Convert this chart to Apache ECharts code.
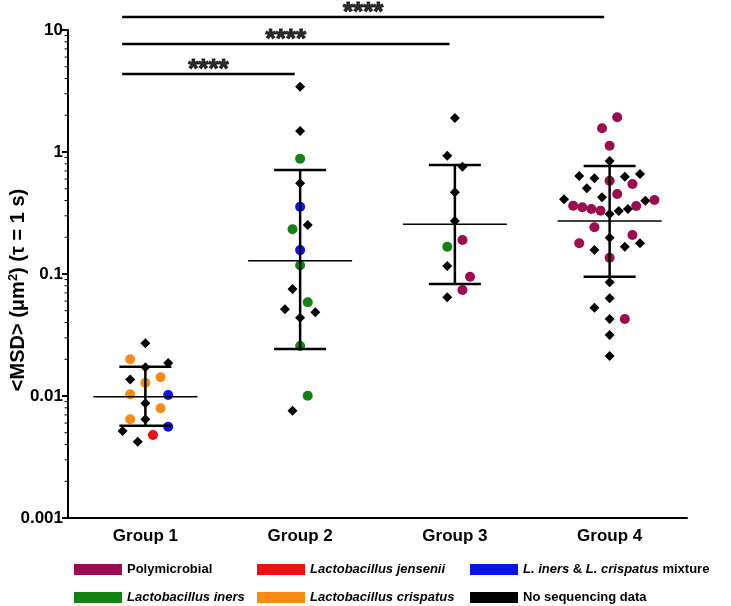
<!DOCTYPE html>
<html><head><meta charset="utf-8">
<script src="https://cdn.jsdelivr.net/npm/echarts@6/dist/echarts.min.js"></script>
<style>html,body{margin:0;padding:0;background:#fff}#c{width:731px;height:606px}</style>
</head><body><div id="c"></div>
<script>
// ---- data ----
const groups = ['Group 1', 'Group 2', 'Group 3', 'Group 4'];
const yTickValues = [0.001, 0.01, 0.1, 1, 10];

// points: [group index, jitter slot, value]
const noSequencing = [
  [0,0,0.0270],[0,3,0.0186],[0,0,0.0172],[0,-2,0.01365],[0,0,0.00871],[0,0,0.00644],[0,-3,0.00516],[0,-1,0.00422],
  [1,0,3.43],[1,0,1.486],[1,0,0.554],[1,1,0.252],[1,-1,0.0753],[1,-2,0.0514],[1,2,0.0485],[1,0,0.0438],[1,-1,0.00758],
  [2,0,1.90],[2,-1,0.932],[2,1,0.758],[2,0,0.468],[2,0,0.272],[2,-1,0.1163],[2,-1,0.0644],
  [3,0,0.844],[3,-4,0.636],[3,-2,0.608],[3,2,0.627],[3,4,0.660],[3,-3,0.504],[3,-1,0.425],[3,-6,0.409],[3,0,0.310],
  [3,1.2,0.328],[3,2.4,0.341],[3,4.7,0.399],[3,0,0.1984],[3,-2,0.157],[3,2,0.1674],[3,4,0.1786],[3,0,0.0855],
  [3,0,0.0632],[3,-2,0.0530],[3,0,0.0428],[3,0,0.0316],[3,0,0.0213]
];
const polymicrobial = [
  [2,1,0.190],[2,2,0.0950],[2,1,0.0739],
  [3,1,1.925],[3,-1,1.564],[3,0,1.126],[3,0,0.582],[3,3,0.547],[3,1,0.453],[3,-4.8,0.363],[3,-3.6,0.352],
  [3,-2.4,0.341],[3,-1.2,0.330],[3,3.5,0.361],[3,5.9,0.404],[3,-2,0.2415],[3,3,0.209],[3,-4,0.1786],[3,0,0.136],[3,2,0.0428]
];
const lIners = [[1,0,0.881],[1,-1,0.2324],[1,0,0.1178],[1,1,0.0586],[1,0,0.0257],[1,1,0.01005],[2,-1,0.1674]];
const lCrispatus = [[0,-2,0.0200],[0,2,0.01423],[0,0,0.01286],[0,-2,0.01035],[0,2,0.00793],[0,-2,0.00644]];
const lJensenii = [[0,1,0.00479]];
const mixture = [[0,3,0.01019],[0,3,0.00560],[1,0,0.356],[1,0,0.157]];

const geoMean = [0.00987, 0.1285, 0.2555, 0.272];
const lowerSD = [0.00571, 0.0243, 0.0828, 0.095];
const upperSD = [0.0174, 0.712, 0.782, 0.768];

// significance brackets
const bracketFrom = [0, 0, 0];
const bracketTo = [1, 2, 3];
const bracketLabel = ['****', '****', '****'];
const bracketLevel = [4.36, 7.68, 12.78];

// ---- chart ----
const SLOT = 0.0491;
const FONT = '"Liberation Sans", Arial, sans-serif';
const chart = echarts.init(document.getElementById('c'), null, {renderer: 'canvas'});

function pts(arr) { return arr.map(d => [d[0] + d[1] * SLOT, d[2]]); }

const errData = groups.map((g, i) => [i, geoMean[i], lowerSD[i], upperSD[i]]);

function renderErr(params, api) {
  const g = api.value(0), m = api.value(1), lo = api.value(2), hi = api.value(3);
  const pm = api.coord([g, m]), pl = api.coord([g, lo]), ph = api.coord([g, hi]);
  const unit = api.coord([g + 1, m])[0] - pm[0];
  const mw = unit * 0.336, cw = unit * 0.168;
  const st = {stroke: '#000', lineWidth: 2.5};
  return {type: 'group', children: [
    {type: 'line', shape: {x1: pl[0], y1: pl[1], x2: ph[0], y2: ph[1]}, style: st},
    {type: 'line', shape: {x1: ph[0] - cw, y1: ph[1], x2: ph[0] + cw, y2: ph[1]}, style: st},
    {type: 'line', shape: {x1: pl[0] - cw, y1: pl[1], x2: pl[0] + cw, y2: pl[1]}, style: st},
    {type: 'line', shape: {x1: pm[0] - mw, y1: pm[1], x2: pm[0] + mw, y2: pm[1]}, style: {stroke: '#000', lineWidth: 1.6}}
  ]};
}

// minor ticks on log axis (2..9 in each decade)
const minorVals = [];
for (let i = 0; i < yTickValues.length - 1; i++) for (let k = 2; k <= 9; k++) minorVals.push([-0.5, yTickValues[i] * k]);
function renderMinor(params, api) {
  const p = api.coord([api.value(0), api.value(1)]);
  return {type: 'line', shape: {x1: p[0] - 3.5, y1: p[1], x2: p[0], y2: p[1]}, style: {stroke: '#000', lineWidth: 1}};
}

function scatter(name, data, color, symbol, size) {
  return {name, type: 'scatter', xAxisIndex: 1, data: pts(data), symbol, symbolSize: size,
    itemStyle: {color, opacity: 1}, z: 3, emphasis: {disabled: true}};
}

const series = [
  scatter('Polymicrobial', polymicrobial, '#9e0c50', 'circle', 10),
  scatter('Lactobacillus jensenii', lJensenii, '#f01010', 'circle', 10),
  scatter('L. iners & L. crispatus mixture', mixture, '#0a14ee', 'circle', 10),
  scatter('Lactobacillus iners', lIners, '#128212', 'circle', 10),
  scatter('Lactobacillus crispatus', lCrispatus, '#f98a14', 'circle', 10),
  scatter('No sequencing data', noSequencing, '#000000', 'diamond', 10),
  {type: 'custom', xAxisIndex: 1, renderItem: renderErr, data: errData, encode: {x: 0, y: [1, 2, 3]}, z: 5, silent: true},
  {type: 'custom', xAxisIndex: 1, renderItem: renderMinor, data: minorVals, encode: {x: 0, y: 1}, clip: false, z: 5, silent: true}
];
bracketFrom.forEach((f, i) => {
  const t = bracketTo[i], h = bracketLevel[i];
  series.push({type: 'line', xAxisIndex: 1, clip: false, symbol: 'none', silent: true, z: 6,
    lineStyle: {color: '#000', width: 2.5}, data: [[f - 0.15, h], [t - 0.035, h]]});
  series.push({type: 'scatter', xAxisIndex: 1, clip: false, silent: true, z: 6, symbolSize: 1,
    itemStyle: {color: 'transparent'}, data: [[(f - 0.15 + t - 0.035) / 2, h]],
    label: {show: true, position: 'top', distance: 0, offset: [0, 9], formatter: bracketLabel[i],
      fontFamily: FONT, fontWeight: 'bold', fontSize: 26, color: '#000',
      textBorderColor: '#000', textBorderWidth: 1}});
});

const legendText = {fontFamily: FONT, fontWeight: 'bold', fontSize: 13, color: '#000',
  rich: {i: {fontFamily: FONT, fontWeight: 'bold', fontStyle: 'italic', fontSize: 13, color: '#000'}}};
function legendFmt(name) {
  if (name === 'L. iners & L. crispatus mixture') return '{i|L. iners} & {i|L. crispatus} mixture';
  if (name.indexOf('Lactobacillus') === 0) return '{i|' + name + '}';
  return name;
}
function legendCol(left, names) {
  return {orient: 'vertical', left, top: 563, padding: 0, itemWidth: 48, itemHeight: 11, itemGap: 15,
    icon: 'rect', selectedMode: false, data: names, textStyle: legendText, formatter: legendFmt};
}

chart.setOption({
  animation: false,
  backgroundColor: '#fff',
  grid: {left: 68, right: 44, top: 30, bottom: 88, containLabel: false, outerBoundsMode: 'none'},
  legend: [
    legendCol(74, ['Polymicrobial', 'Lactobacillus iners']),
    legendCol(257, ['Lactobacillus jensenii', 'Lactobacillus crispatus']),
    legendCol(470, ['L. iners & L. crispatus mixture', 'No sequencing data'])
  ],
  xAxis: [
    {type: 'category', data: groups, boundaryGap: true,
      axisLine: {lineStyle: {color: '#000', width: 2}}, axisTick: {show: false},
      axisLabel: {fontFamily: FONT, fontWeight: 'bold', fontSize: 17, color: '#000', margin: 10}},
    {type: 'value', min: -0.5, max: 3.5, show: false}
  ],
  yAxis: {
    type: 'log', logBase: 10, min: 0.001, max: 10,
    name: '{b|<MSD> (\u03bcm}{s|2}{b|) (\u03c4 = 1 s)}{p| }', nameLocation: 'middle', nameGap: 39, nameRotate: 90,
    nameMoveOverlap: false,
    nameTextStyle: {rich: {
      b: {fontFamily: FONT, fontWeight: 'bold', fontSize: 20, color: '#000'},
      s: {fontFamily: FONT, fontWeight: 'bold', fontSize: 13, color: '#000', verticalAlign: 'top', padding: [0, 0, 9, 0]},
      p: {width: 32, fontSize: 20}
    }},
    axisLine: {show: true, onZero: false, lineStyle: {color: '#000', width: 2}},
    axisTick: {show: true, length: 6, lineStyle: {color: '#000', width: 2}},
    splitLine: {show: false},
    axisLabel: {fontFamily: FONT, fontWeight: 'bold', fontSize: 17, color: '#000', margin: 5,
      formatter: v => String(+v.toPrecision(3))}
  },
  series
});
</script></body></html>
